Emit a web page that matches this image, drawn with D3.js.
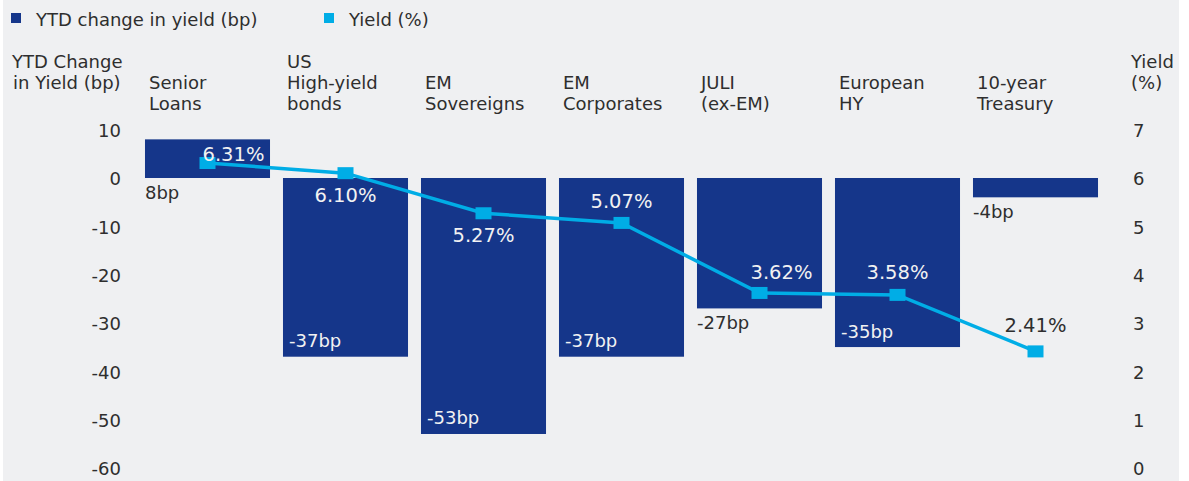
<!DOCTYPE html>
<html>
<head>
<meta charset="utf-8">
<script src="https://cdn.jsdelivr.net/npm/d3@7"></script>
<style>
  body { margin: 0; background: #fff; }
  svg text { font-family: "DejaVu Sans", sans-serif; }
</style>
</head>
<body>
<div id="chart"></div>
<script>
// data
const categories = ["Senior\nLoans", "US\nHigh-yield\nbonds", "EM\nSovereigns", "EM\nCorporates",
                    "JULI\n(ex-EM)", "European\nHY", "10-year\nTreasury"];
const ytdChange = [8, -37, -53, -37, -27, -35, -4];
const yieldPct = [6.31, 6.10, 5.27, 5.07, 3.62, 3.58, 2.41];
const leftTicks = [10, 0, -10, -20, -30, -40, -50, -60];
const rightTicks = [7, 6, 5, 4, 3, 2, 1, 0];

// where each yield label sits relative to its marker [dx, baseline dy]
const yieldLabelOffset = [[26, -2], [0, 29], [0, 29], [0, -15], [22, -14], [0, -16], [0, -19]];

const width = 1189, height = 481;
const navy = "#15368a", cyan = "#00ade6", ink = "#2e2e2e";

const svg = d3.select("#chart")
  .append("svg")
    .attr("width", width)
    .attr("height", height);

// light gray panel
svg.append("rect")
  .attr("x", 3).attr("y", 0)
  .attr("width", 1176).attr("height", height)
  .attr("fill", "#eff0f2");

// scales
const x = d3.scaleBand()
  .domain(categories)
  .range([138.5, 1104.5])
  .paddingInner(0.094)
  .paddingOuter(0.047);

const y = d3.scaleLinear().domain([-60, 10]).range([467.8, 129.7]);
const y2 = d3.scaleLinear().domain([0, 7]).range([467.8, 129.7]);

// legend
const legend = [["YTD change in yield (bp)", navy, 11], ["Yield (%)", cyan, 324]];
legend.forEach(([label, color, lx]) => {
  svg.append("rect").attr("x", lx).attr("y", 13).attr("width", 10).attr("height", 10).attr("fill", color);
  svg.append("text").attr("x", lx + 25).attr("y", 26)
    .attr("font-size", 18).attr("fill", ink).text(label);
});

// axis titles
const leftTitle = svg.append("text").attr("font-size", 18).attr("fill", ink);
leftTitle.append("tspan").attr("x", 12).attr("y", 68).text("YTD Change");
leftTitle.append("tspan").attr("x", 13).attr("y", 89).text("in Yield (bp)");
const rightTitle = svg.append("text").attr("font-size", 18).attr("fill", ink);
rightTitle.append("tspan").attr("x", 1131).attr("y", 68).text("Yield");
rightTitle.append("tspan").attr("x", 1131).attr("y", 89).text("(%)");

// left axis
const leftAxis = svg.append("g")
  .attr("transform", "translate(121,0)")
  .call(d3.axisLeft(y).tickValues(leftTicks).tickFormat(d => String(d)).tickSize(0).tickPadding(0));
leftAxis.select(".domain").remove();
leftAxis.selectAll("text")
  .attr("font-size", 18).attr("fill", ink).attr("dy", "0.38em")
  .style("font-family", "DejaVu Sans");

// right axis
const rightAxis = svg.append("g")
  .attr("transform", "translate(1133,0)")
  .call(d3.axisRight(y2).tickValues(rightTicks).tickFormat(d => String(d)).tickSize(0).tickPadding(0));
rightAxis.select(".domain").remove();
rightAxis.selectAll("text")
  .attr("font-size", 18).attr("fill", ink).attr("dy", "0.38em")
  .style("font-family", "DejaVu Sans");

// category labels, bottom aligned
categories.forEach(c => {
  const lines = c.split("\n");
  const t = svg.append("text").attr("font-size", 18).attr("fill", ink);
  lines.forEach((ln, i) => {
    t.append("tspan")
      .attr("x", x(c) + 4)
      .attr("y", 110 - (lines.length - 1 - i) * 21)
      .text(ln);
  });
});

// bars
svg.append("g").selectAll("rect")
  .data(ytdChange)
  .join("rect")
    .attr("x", (d, i) => x(categories[i]))
    .attr("y", d => y(Math.max(0, d)))
    .attr("width", x.bandwidth())
    .attr("height", d => Math.abs(y(d) - y(0)))
    .attr("fill", navy);

// bar labels: inside the bar when it is long enough, else under it
svg.append("g").selectAll("text")
  .data(ytdChange)
  .join("text")
    .attr("font-size", 18)
    .attr("x", (d, i) => x(categories[i]) + (Math.abs(d) >= 30 ? 6 : 0))
    .attr("y", d => Math.abs(d) >= 30 ? y(d) - 9.5 : y(Math.min(0, d)) + 21)
    .attr("fill", d => Math.abs(d) >= 30 ? "#f2f2f2" : ink)
    .text(d => d + "bp");

// yield line
const cx = i => x(categories[i]) + x.bandwidth() / 2;
svg.append("path")
  .datum(yieldPct)
  .attr("fill", "none")
  .attr("stroke", cyan)
  .attr("stroke-width", 3.5)
  .attr("d", d3.line().x((d, i) => cx(i)).y(d => y2(d)));

svg.append("g").selectAll("rect")
  .data(yieldPct)
  .join("rect")
    .attr("x", (d, i) => cx(i) - 8)
    .attr("y", d => y2(d) - 6)
    .attr("width", 16).attr("height", 12)
    .attr("fill", cyan);

// yield labels, white when they sit on a bar
svg.append("g").selectAll("text")
  .data(yieldPct)
  .join("text")
    .attr("font-size", 19.5)
    .attr("text-anchor", "middle")
    .attr("x", (d, i) => cx(i) + yieldLabelOffset[i][0])
    .attr("y", (d, i) => y2(d) + yieldLabelOffset[i][1])
    .attr("fill", (d, i) => {
      const by = y2(d) + yieldLabelOffset[i][1] - 7;
      const top = y(Math.max(0, ytdChange[i])), bot = y(Math.min(0, ytdChange[i]));
      return by > top && by < bot ? "#f2f2f2" : ink;
    })
    .text(d => d.toFixed(2) + "%");
</script>
</body>
</html>
